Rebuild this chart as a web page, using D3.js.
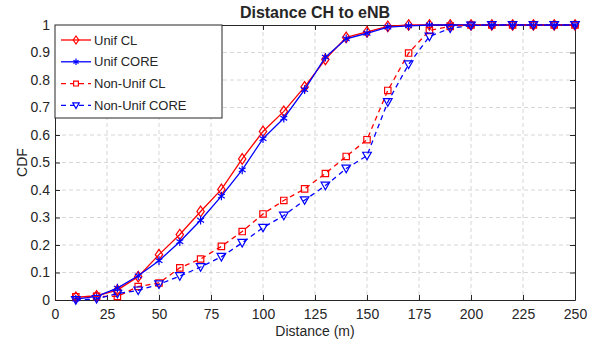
<!DOCTYPE html>
<html>
<head>
<meta charset="utf-8">
<script src="https://cdn.jsdelivr.net/npm/d3@7"></script>
<style>
  body { margin: 0; background: #fff; }
  text { font-family: "Liberation Sans", Arial, Helvetica, sans-serif; fill: #262626; }
</style>
</head>
<body>
<svg id="chart" width="598" height="345"></svg>
<script>
const distances = [10, 20, 30, 40, 50, 60, 70, 80, 90, 100, 110, 120, 130, 140, 150, 160, 170, 180, 190, 200, 210, 220, 230, 240, 250];
const unifCL = [0.01, 0.015, 0.036, 0.085, 0.165, 0.238, 0.322, 0.402, 0.513, 0.613, 0.686, 0.775, 0.875, 0.955, 0.975, 0.995, 1, 1, 1, 1, 1, 1, 1, 1, 1];
const unifCORE = [0.003, 0.013, 0.043, 0.088, 0.143, 0.212, 0.29, 0.378, 0.473, 0.587, 0.661, 0.765, 0.883, 0.95, 0.97, 0.992, 0.997, 1, 1, 1, 1, 1, 1, 1, 1];
const nonUnifCL = [0.012, 0.013, 0.013, 0.049, 0.062, 0.117, 0.149, 0.195, 0.249, 0.313, 0.362, 0.404, 0.46, 0.522, 0.583, 0.762, 0.898, 0.98, 0.995, 1, 1, 1, 1, 1, 1];
const nonUnifCORE = [0, 0.004, 0.023, 0.035, 0.057, 0.087, 0.12, 0.157, 0.208, 0.263, 0.307, 0.363, 0.416, 0.478, 0.525, 0.72, 0.857, 0.958, 0.988, 0.998, 1, 1, 1, 1, 1];

const xTicks = [0, 25, 50, 75, 100, 125, 150, 175, 200, 225, 250];
const yTicks = [0, 0.1, 0.2, 0.3, 0.4, 0.5, 0.6, 0.7, 0.8, 0.9, 1];
const seriesNames = ["Unif CL", "Unif CORE", "Non-Unif CL", "Non-Unif CORE"];

const series = [
  { name: seriesNames[0], values: unifCL, color: "#ff0000", dash: null, marker: "diamond" },
  { name: seriesNames[1], values: unifCORE, color: "#0000ff", dash: null, marker: "star" },
  { name: seriesNames[2], values: nonUnifCL, color: "#ff0000", dash: "5,4", marker: "square" },
  { name: seriesNames[3], values: nonUnifCORE, color: "#0000ff", dash: "5,4", marker: "triangle" }
];

const margin = { top: 25, right: 23, bottom: 45, left: 55 };
const W = 598, H = 345;
const width = W - margin.left - margin.right;
const height = H - margin.top - margin.bottom;

const svg = d3.select("#chart");
const g = svg.append("g").attr("transform", `translate(${margin.left},${margin.top})`);

const x = d3.scaleLinear().domain([0, 250]).range([0, width]);
const y = d3.scaleLinear().domain([0, 1]).range([height, 0]);

// grid
g.append("g")
  .selectAll("line")
  .data(xTicks.slice(1, -1))
  .join("line")
  .attr("x1", (d) => x(d)).attr("x2", (d) => x(d))
  .attr("y1", 0).attr("y2", height)
  .attr("stroke", "#d6d6d6").attr("stroke-dasharray", "4,3");
g.append("g")
  .selectAll("line")
  .data(yTicks.slice(1, -1))
  .join("line")
  .attr("y1", (d) => y(d)).attr("y2", (d) => y(d))
  .attr("x1", 0).attr("x2", width)
  .attr("stroke", "#d6d6d6").attr("stroke-dasharray", "4,3");

function styleAxis(sel) {
  sel.selectAll("path").attr("stroke", "#262626");
  sel.selectAll("line").attr("stroke", "#262626");
  sel.selectAll("text").style("font-size", "14px").attr("fill", "#262626");
}

g.append("g")
  .attr("transform", `translate(0,${height})`)
  .call(d3.axisBottom(x).tickValues(xTicks).tickSizeInner(-5).tickSizeOuter(0).tickPadding(9))
  .call(styleAxis);
g.append("g")
  .call(d3.axisLeft(y).tickValues(yTicks).tickFormat((d) => d3.format("")(d)).tickSizeInner(-5).tickSizeOuter(0).tickPadding(5))
  .call(styleAxis);
g.append("g")
  .call(d3.axisTop(x).tickValues(xTicks).tickSizeInner(-5).tickSizeOuter(0).tickFormat(""))
  .call(styleAxis);
g.append("g")
  .attr("transform", `translate(${width},0)`)
  .call(d3.axisRight(y).tickValues(yTicks).tickSizeInner(-5).tickSizeOuter(0).tickFormat(""))
  .call(styleAxis);

function markerPath(type, k = 1) {
  if (type === "diamond") return `M0,${-5.3 * k}L${3.7 * k},0L0,${5.3 * k}L${-3.7 * k},0Z`;
  if (type === "square") { const s = 3.2 * k; return `M${-s},${-s}H${s}V${s}H${-s}Z`; }
  if (type === "triangle") return `M${-4.3 * k},${-3.4 * k}H${4.3 * k}L0,${4.2 * k}Z`;
  // asterisk
  const r = 4.3 * k, a = r * 0.8, b = r * 0.5;
  return `M0,${-r}V${r}M${-a},${-b}L${a},${b}M${-a},${b}L${a},${-b}`;
}

const line = d3.line()
  .x((d) => x(d[0]))
  .y((d) => y(d[1]));

series.forEach((s) => {
  const pts = distances.map((d, i) => [d, s.values[i]]);
  g.append("path")
    .datum(pts)
    .attr("fill", "none")
    .attr("stroke", s.color)
    .attr("stroke-width", 1.3)
    .attr("stroke-dasharray", s.dash)
    .attr("d", line);
  g.append("g")
    .selectAll("path")
    .data(pts)
    .join("path")
    .attr("transform", (d) => `translate(${x(d[0])},${y(d[1])})`)
    .attr("d", markerPath(s.marker))
    .attr("fill", "none")
    .attr("stroke", s.color)
    .attr("stroke-width", 1.2);
});

// legend
const legend = g.append("g");
legend.append("rect")
  .attr("x", 0).attr("y", 0)
  .attr("width", 167).attr("height", 93)
  .attr("fill", "#fff")
  .attr("stroke", "#262626")
  .attr("stroke-width", 1);
series.forEach((s, i) => {
  const ly = 15 + i * 21.8;
  legend.append("line")
    .attr("x1", 6).attr("x2", 36)
    .attr("y1", ly).attr("y2", ly)
    .attr("stroke", s.color)
    .attr("stroke-width", 1.3)
    .attr("stroke-dasharray", s.dash);
  legend.append("path")
    .attr("transform", `translate(21,${ly})`)
    .attr("d", markerPath(s.marker, 0.75))
    .attr("fill", s.dash ? "#fff" : "none")
    .attr("stroke", s.color)
    .attr("stroke-width", 1.2);
  legend.append("text")
    .attr("x", 39).attr("y", ly)
    .attr("dy", "0.35em")
    .style("font-size", "13px")
    .text(s.name);
});

svg.append("text")
  .attr("x", margin.left + width / 2).attr("y", 18)
  .attr("text-anchor", "middle")
  .style("font-size", "16px").style("font-weight", "bold")
  .attr("fill", "#000")
  .text("Distance CH to eNB");

svg.append("text")
  .attr("x", margin.left + width / 2).attr("y", 336)
  .attr("text-anchor", "middle")
  .style("font-size", "14px")
  .text("Distance (m)");

svg.append("text")
  .attr("transform", `translate(27,${margin.top + height / 2}) rotate(-90)`)
  .attr("text-anchor", "middle")
  .style("font-size", "14px")
  .text("CDF");
</script>
</body>
</html>
